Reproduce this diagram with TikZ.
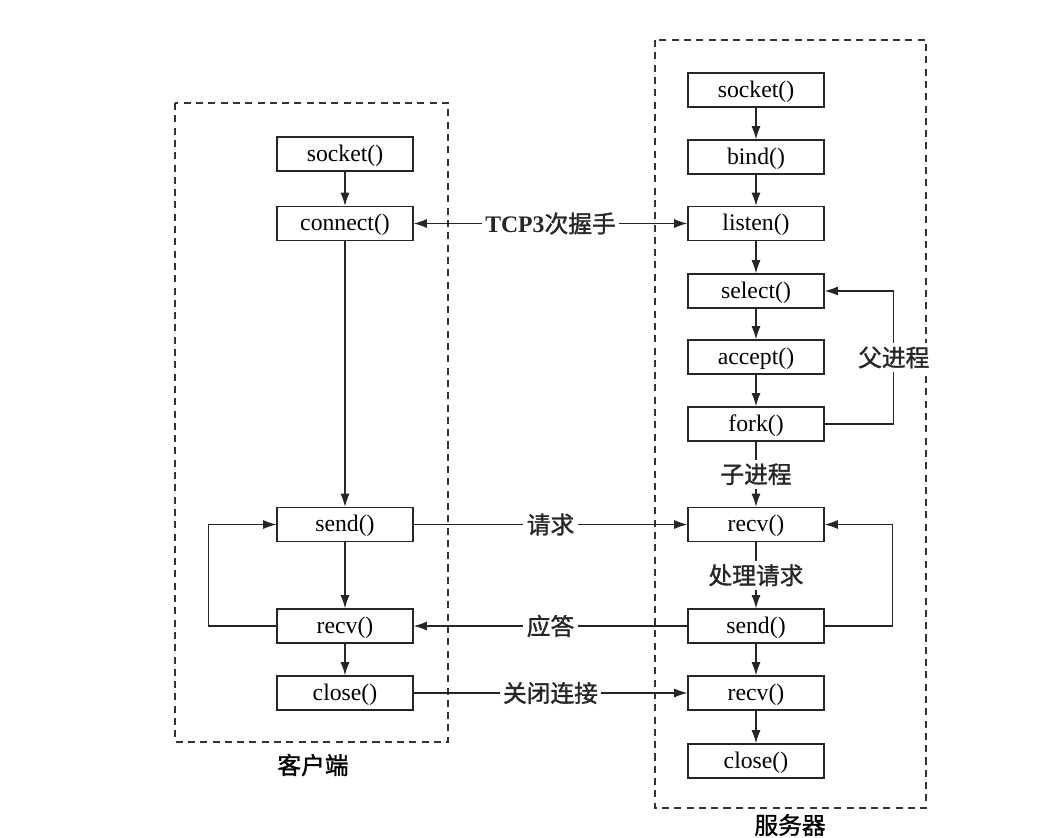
\documentclass[tikz,border=0pt]{standalone}
\usepackage{fontspec}
\setmainfont{Liberation Serif}
\newfontfamily\cjk[FakeBold=1.3]{Noto Sans CJK SC}
\usepackage{tikz}
\usetikzlibrary{calc,positioning,arrows.meta}
\tikzset{call/.style={draw=black!85, line width=0.9pt, minimum width=2.72cm, minimum height=0.68cm, inner sep=0pt, text height=10pt, text depth=2pt, font=\fontsize{13.5}{16}\selectfont}}
\tikzset{side/.style={draw=black!80, dash pattern=on 4pt off 3pt, line width=0.8pt}}
\tikzset{tag/.style={fill=white, inner sep=2pt, font=\fontsize{13.5}{16}\selectfont}}
\tikzset{
  edgeflow/.style={black!85, line width=0.6pt, -{Latex[length=2.6mm,width=1.8mm]}},
  edgemsg/.style={black!85, line width=0.6pt, -{Latex[length=2.6mm,width=1.8mm]}},
  edgeshake/.style={black!85, line width=0.6pt, {Latex[length=2.6mm,width=1.8mm]}-{Latex[length=2.6mm,width=1.8mm]}}
}

\begin{document}
\begin{tikzpicture}
\useasboundingbox (0,0) rectangle (21.2,-16.74);
\draw[side] (3.5,-2.06) rectangle (8.96,-14.84);
\draw[side] (13.1,-0.8) rectangle (18.52,-16.16);
\node[tag](cSide) at (6.26,-15.3) {\cjk 客户端};
\node[tag](sSide) at (15.8,-16.5) {\cjk 服务器};
\node[call](cSocket) at (6.9,-3.08) {socket()};
\node[call](cConnect) at (6.9,-4.47) {connect()};
\node[call](cSend) at (6.9,-10.49) {send()};
\node[call](cRecv) at (6.9,-12.52) {recv()};
\node[call](cClose) at (6.9,-13.86) {close()};
\node[call](sSocket) at (15.12,-1.8) {socket()};
\node[call](sBind) at (15.12,-3.14) {bind()};
\node[call](sListen) at (15.12,-4.47) {listen()};
\node[call](sSelect) at (15.12,-5.82) {select()};
\node[call](sAccept) at (15.12,-7.14) {accept()};
\node[call](sFork) at (15.12,-8.48) {fork()};
\node[call](sRecv) at (15.12,-10.49) {recv()};
\node[call](sSend) at (15.12,-12.52) {send()};
\node[call](sRecvB) at (15.12,-13.86) {recv()};
\node[call](sClose) at (15.12,-15.22) {close()};
\draw[edgeflow] (cSocket) -- (cConnect);
\draw[edgeflow] (cConnect) -- (cSend);
\draw[edgeflow] (cSend) -- (cRecv);
\draw[edgeflow] (cRecv) -- (cClose);
\draw[edgeflow] (cRecv.west) -- ++(-1.36,0) |- (cSend.west);
\draw[edgeflow] (sSocket) -- (sBind);
\draw[edgeflow] (sBind) -- (sListen);
\draw[edgeflow] (sListen) -- (sSelect);
\draw[edgeflow] (sSelect) -- (sAccept);
\draw[edgeflow] (sAccept) -- (sFork);
\draw[edgeflow] (sFork) -- node[tag]{\cjk 子进程} (sRecv);
\draw[edgeflow] (sRecv) -- node[tag]{\cjk 处理请求} (sSend);
\draw[edgeflow] (sSend) -- (sRecvB);
\draw[edgeflow] (sRecvB) -- (sClose);
\draw[edgeflow] (sFork.east) -- ++(1.38,0) |- node[tag,pos=0.25]{\cjk 父进程} (sSelect.east);
\draw[edgeflow] (sSend.east) -- ++(1.36,0) |- (sRecv.east);
\draw[edgeshake] (cConnect) -- node[tag]{{\bfseries TCP3}{\cjk 次握手}} (sListen);
\draw[edgemsg] (cSend) -- node[tag]{\cjk 请求} (sRecv);
\draw[edgemsg] (sSend) -- node[tag]{\cjk 应答} (cRecv);
\draw[edgemsg] (cClose) -- node[tag]{\cjk 关闭连接} (sRecvB);
\end{tikzpicture}
\end{document}
